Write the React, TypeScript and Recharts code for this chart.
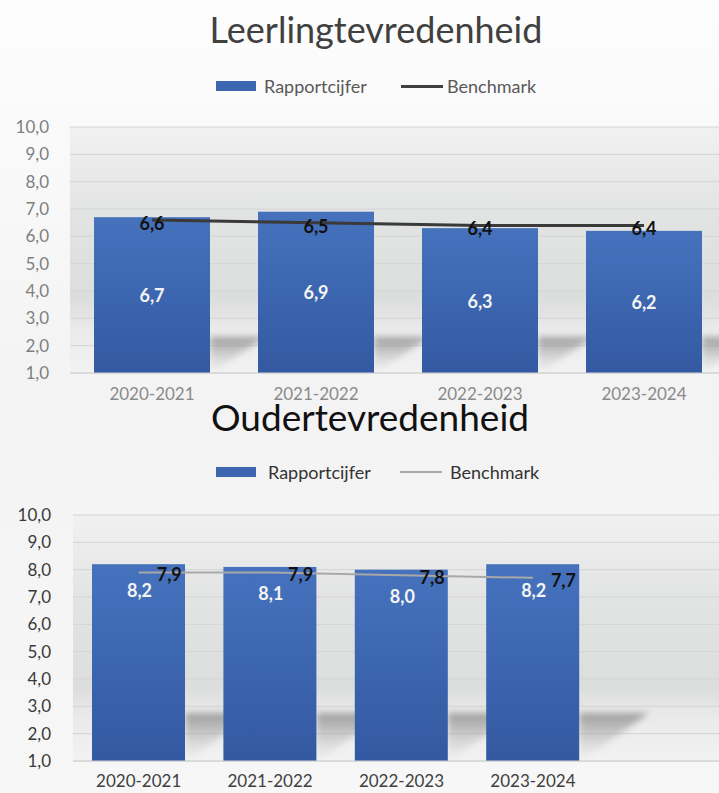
import React from "react";
import {
  ComposedChart,
  Bar,
  Line,
  XAxis,
  YAxis,
  CartesianGrid,
  LabelList,
} from "recharts";

const years = ["2020-2021", "2021-2022", "2022-2023", "2023-2024"];
const leerlingRapport = [6.7, 6.9, 6.3, 6.2];
const leerlingBench = [6.6, 6.5, 6.4, 6.4];
const ouderRapport = [8.2, 8.1, 8.0, 8.2];
const ouderBench = [7.9, 7.9, 7.8, 7.7];
const yTicks = [1, 2, 3, 4, 5, 6, 7, 8, 9, 10];

const FONT = "Lato, 'Open Sans', sans-serif";
const fmt = (v: any) =>
  v === null || v === undefined ? "" : Number(v).toFixed(1).replace(".", ",");

const topData = years.map((y, i) => ({
  year: y,
  rapport: leerlingRapport[i],
  bench: leerlingBench[i],
}));
const bottomData = [
  ...years.map((y, i) => ({
    year: y,
    rapport: ouderRapport[i],
    bench: ouderBench[i],
  })),
  { year: "", rapport: null, bench: null },
];

const makeBarShape = (id: string, sh: number, sw: number) => (props: any) => {
  const { x, y, width, height } = props;
  if (height == null || isNaN(height) || height <= 0) return <g />;
  const bottom = y + height;
  const right = x + width;
  return (
    <g>
      <polygon
        points={`${right},${bottom - sh} ${right + sw},${bottom - sh} ${right + 4},${bottom - 2} ${right},${bottom - 2}`}
        fill={`url(#${id}-shadow)`}
        filter={`url(#${id}-blur)`}
      />
      <rect x={x} y={y} width={width} height={height} fill={`url(#${id}-bar)`} />
    </g>
  );
};

const Defs = ({ id }: { id: string }) => (
  <defs>
    <linearGradient id={`${id}-bar`} x1="0" y1="0" x2="0" y2="1">
      <stop offset="0%" stopColor="#4672bd" />
      <stop offset="100%" stopColor="#3359a2" />
    </linearGradient>
    <linearGradient id={`${id}-bg`} x1="0" y1="0" x2="0" y2="1">
      <stop offset="0%" stopColor="#f1f1f1" />
      <stop offset="35%" stopColor="#e2e3e3" />
      <stop offset="70%" stopColor="#dcdddd" />
      <stop offset="82%" stopColor="#eaeaea" />
      <stop offset="100%" stopColor="#f2f2f2" />
    </linearGradient>
    <linearGradient id={`${id}-shadow`} x1="0" y1="0" x2="0" y2="1">
      <stop offset="0%" stopColor="#8f8f8f" stopOpacity={0.85} />
      <stop offset="40%" stopColor="#a8a8a8" stopOpacity={0.6} />
      <stop offset="100%" stopColor="#d0d0d0" stopOpacity={0.1} />
    </linearGradient>
    <filter id={`${id}-blur`} x="-50%" y="-50%" width="200%" height="200%">
      <feGaussianBlur stdDeviation="3" />
    </filter>
  </defs>
);

const TopLineLabel = (props: any) => {
  const { x, y, value } = props;
  if (value == null) return null;
  return (
    <text
      x={x}
      y={y + 3}
      textAnchor="middle"
      dominantBaseline="central"
      fill="#111"
      fontWeight={700}
      fontSize={18}
      fontFamily={FONT}
    >
      {fmt(value)}
    </text>
  );
};

const BottomLineLabel = (props: any) => {
  const { x, y, value } = props;
  if (value == null) return null;
  return (
    <text
      x={x + 18}
      y={y + 2}
      textAnchor="start"
      dominantBaseline="central"
      fill="#111"
      fontWeight={700}
      fontSize={18}
      fontFamily={FONT}
    >
      {fmt(value)}
    </text>
  );
};

const BottomBarLabel = (props: any) => {
  const { x, y, width, value } = props;
  if (value == null) return null;
  return (
    <text
      x={x + width / 2 + 1}
      y={y + 26}
      textAnchor="middle"
      dominantBaseline="central"
      fill="#f4f4f4"
      fontWeight={700}
      fontSize={18}
      fontFamily={FONT}
    >
      {fmt(value)}
    </text>
  );
};

const TopBarLabel = (props: any) => {
  const { x, y, width, height, value } = props;
  if (value == null) return null;
  return (
    <text
      x={x + width / 2}
      y={y + height / 2}
      textAnchor="middle"
      dominantBaseline="central"
      fill="#f4f4f4"
      fontWeight={700}
      fontSize={18}
      fontFamily={FONT}
    >
      {fmt(value)}
    </text>
  );
};

const Legend = ({
  top,
  rectLeft,
  textLeft,
  lineLeft,
  benchLeft,
  textColor,
  lineColor,
  lineWidth,
}: any) => (
  <>
    <div
      style={{
        position: "absolute",
        left: rectLeft,
        top: top - 5,
        width: 40,
        height: 10,
        background: "#3d66b0",
      }}
    />
    <div
      style={{
        position: "absolute",
        left: textLeft,
        top: top - 12,
        fontSize: 18,
        lineHeight: "24px",
        color: textColor,
        fontFamily: FONT,
        whiteSpace: "nowrap",
      }}
    >
      Rapportcijfer
    </div>
    <div
      style={{
        position: "absolute",
        left: lineLeft,
        top: top - lineWidth / 2,
        width: 42,
        height: lineWidth,
        background: lineColor,
      }}
    />
    <div
      style={{
        position: "absolute",
        left: benchLeft,
        top: top - 12,
        fontSize: 18,
        lineHeight: "24px",
        color: textColor,
        fontFamily: FONT,
        whiteSpace: "nowrap",
      }}
    >
      Benchmark
    </div>
  </>
);

export default function App() {
  return (
    <div
      style={{
        position: "absolute",
        left: 0,
        top: 0,
        width: 719,
        height: 793,
        overflow: "hidden",
        background: "linear-gradient(#fdfdfd, #f3f3f3 50%, #f7f7f7)",
        fontFamily: FONT,
      }}
    >
      <div
        style={{
          position: "absolute",
          left: 0,
          width: 752,
          top: 8,
          textAlign: "center",
          fontSize: 36,
          lineHeight: "42px",
          color: "#404040",
          fontFamily: FONT,
        }}
      >
        Leerlingtevredenheid
      </div>
      <Legend
        top={86}
        rectLeft={216}
        textLeft={264}
        lineLeft={401}
        benchLeft={447}
        textColor="#595959"
        lineColor="#404040"
        lineWidth={3}
      />

      <div style={{ position: "absolute", left: 0, top: 110 }}>
        <ComposedChart
          width={740}
          height={293}
          data={topData}
          margin={{ top: 17, right: 14, bottom: 0, left: 10 }}
          barCategoryGap={24}
        >
          <Defs id="t" />
          <CartesianGrid
            vertical={false}
            stroke="#d4d4d4"
            fill="url(#t-bg)"
            fillOpacity={1}
          />
          <XAxis
            dataKey="year"
            axisLine={{ stroke: "#d0d0d0" }}
            tickLine={false}
            height={30}
            tick={{ fill: "#8a8a8a", fontSize: 17, fontFamily: FONT }}
            tickMargin={9}
          />
          <YAxis
            width={60}
            domain={[1, 10]}
            ticks={yTicks}
            interval={0}
            axisLine={false}
            tickLine={false}
            tickSize={0}
            tickMargin={21}
            tickFormatter={fmt}
            tick={{ fill: "#7f7f7f", fontSize: 17, fontFamily: FONT }}
          />
          <Bar
            dataKey="rapport"
            isAnimationActive={false}
            shape={makeBarShape("t", 36, 55)}
          >
            <LabelList dataKey="rapport" content={TopBarLabel} />
          </Bar>
          <Line
            dataKey="bench"
            stroke="#3a3a3a"
            strokeWidth={3}
            dot={false}
            activeDot={false}
            isAnimationActive={false}
          >
            <LabelList dataKey="bench" content={TopLineLabel} />
          </Line>
        </ComposedChart>
      </div>

      <div
        style={{
          position: "absolute",
          left: 0,
          width: 740,
          top: 396,
          textAlign: "center",
          fontSize: 37,
          lineHeight: "42px",
          color: "#111",
          fontFamily: FONT,
        }}
      >
        Oudertevredenheid
      </div>
      <Legend
        top={472}
        rectLeft={216}
        textLeft={268}
        lineLeft={400}
        benchLeft={450}
        textColor="#333"
        lineColor="#a8a8a8"
        lineWidth={2}
      />

      <div style={{ position: "absolute", left: 0, top: 495 }}>
        <ComposedChart
          width={740}
          height={298}
          data={bottomData}
          margin={{ top: 20, right: 10, bottom: 0, left: 10 }}
          barCategoryGap={19}
        >
          <Defs id="b" />
          <CartesianGrid
            vertical={false}
            stroke="#d4d4d4"
            fill="url(#b-bg)"
            fillOpacity={1}
          />
          <XAxis
            dataKey="year"
            axisLine={{ stroke: "#d0d0d0" }}
            tickLine={false}
            height={32}
            tick={{ fill: "#404040", fontSize: 17, fontFamily: FONT }}
            tickMargin={8}
            interval={0}
          />
          <YAxis
            width={63}
            domain={[1, 10]}
            ticks={yTicks}
            interval={0}
            axisLine={false}
            tickLine={false}
            tickSize={0}
            tickMargin={22}
            tickFormatter={fmt}
            tick={{ fill: "#3a3a3a", fontSize: 17, fontFamily: FONT }}
          />
          <Bar
            dataKey="rapport"
            isAnimationActive={false}
            shape={makeBarShape("b", 48, 70)}
          >
            <LabelList dataKey="rapport" content={BottomBarLabel} />
          </Bar>
          <Line
            dataKey="bench"
            stroke="#a8a8a8"
            strokeWidth={2}
            dot={false}
            activeDot={false}
            isAnimationActive={false}
          >
            <LabelList dataKey="bench" content={BottomLineLabel} />
          </Line>
        </ComposedChart>
      </div>
    </div>
  );
}
